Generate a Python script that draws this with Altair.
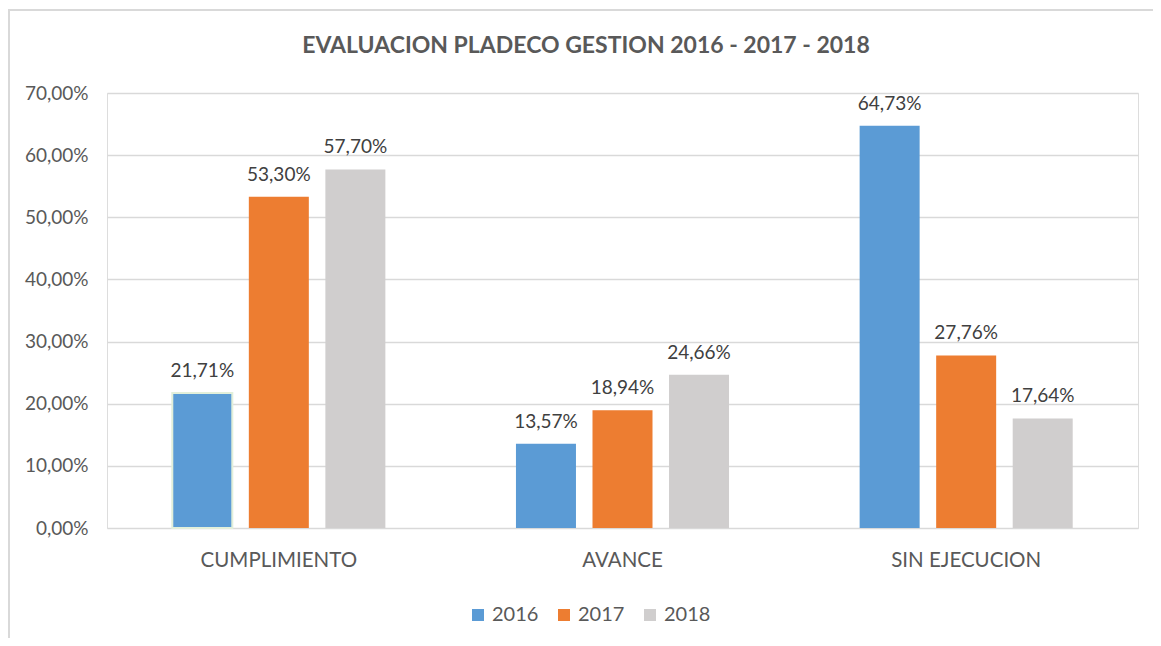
import altair as alt
import pandas as pd

title_text = "EVALUACION PLADECO GESTION 2016 - 2017 - 2018"
categories = ["CUMPLIMIENTO", "AVANCE", "SIN EJECUCION"]
years = ["2016", "2017", "2018"]
values_2016 = [0.2171, 0.1357, 0.6473]
values_2017 = [0.5330, 0.1894, 0.2776]
values_2018 = [0.5770, 0.2466, 0.1764]
colors = ["#5B9BD5", "#ED7D31", "#D0CECE"]

rows = []
for yr, vals in zip(years, [values_2016, values_2017, values_2018]):
    for c, v in zip(categories, vals):
        rows.append({"categoria": c, "anio": yr, "valor": v})
df = pd.DataFrame(rows)

FONT = "Lato"
GRAY_TXT = "#595959"

x_enc = alt.X("categoria:N", sort=categories, title=None,
              scale=alt.Scale(paddingInner=0.38, paddingOuter=0.19),
              axis=alt.Axis(labelFont=FONT, labelFontSize=20.5, labelColor=GRAY_TXT,
                            labelPadding=22, ticks=False, domain=False, labelAngle=0))
xo_enc = alt.XOffset("anio:N", sort=years,
                     scale=alt.Scale(paddingInner=0.216, paddingOuter=0))
y_enc = alt.Y("valor:Q", title=None,
              scale=alt.Scale(domain=[0, 0.7], nice=False),
              axis=alt.Axis(values=[0, 0.1, 0.2, 0.3, 0.4, 0.5, 0.6, 0.7],
                            labelExpr="replace(format(datum.value, '.2%'), '.', ',')",
                            labelFont=FONT, labelFontSize=19, labelColor=GRAY_TXT,
                            labelPadding=19, ticks=False, domain=False,
                            grid=True, gridColor="#D9D9D9", gridWidth=1.5))
color_enc = alt.Color("anio:N", sort=years, title=None,
                      scale=alt.Scale(domain=years, range=colors),
                      legend=alt.Legend(orient="none", direction="horizontal",
                                        legendX=361, legendY=512,
                                        symbolType="square", symbolSize=144,
                                        symbolStrokeWidth=0,
                                        labelFont=FONT, labelFontSize=20,
                                        labelColor=GRAY_TXT, labelOffset=4,
                                        columnPadding=15))

base = alt.Chart(df)

bars = base.mark_bar(stroke="#E2EFDA").encode(
    x=x_enc, xOffset=xo_enc, y=y_enc, color=color_enc,
    strokeWidth=alt.condition(
        "datum.categoria == 'CUMPLIMIENTO' && datum.anio == '2016'",
        alt.value(2), alt.value(0)),
)

labels = base.transform_calculate(
    etiqueta="replace(format(datum.valor, '.2%'), '.', ',')"
).mark_text(font=FONT, fontSize=19, color="#404040", baseline="alphabetic", dy=-16).encode(
    x=alt.X("categoria:N", sort=categories),
    xOffset=alt.XOffset("anio:N", sort=years),
    y=alt.Y("valor:Q"),
    text="etiqueta:N",
)

title_layer = alt.Chart(pd.DataFrame({"t": [title_text]})).mark_text(
    font=FONT, fontSize=23, fontWeight="bold", color=GRAY_TXT,
    align="center", baseline="alphabetic"
).encode(x=alt.value(479), y=alt.value(-40), text="t:N")

frame_left = alt.Chart(pd.DataFrame({"k": [0]})).mark_rect(
    fill="#D9D9D9", stroke=None
).encode(x=alt.value(-99), x2=alt.value(-97), y=alt.value(-84), y2=alt.value(545))
frame_top = alt.Chart(pd.DataFrame({"k": [0]})).mark_rect(
    fill="#D9D9D9", stroke=None
).encode(x=alt.value(-99), x2=alt.value(1046), y=alt.value(-84), y2=alt.value(-82))

chart = alt.layer(bars, labels, title_layer, frame_left, frame_top).properties(
    width=1031, height=435,
    autosize=alt.AutoSizeParams(type="none"),
    padding={"left": 99, "top": 85, "right": 15, "bottom": 110},
).configure_view(stroke=None).configure(background="white")

chart.save("out.html", embed_options={"renderer": "svg", "actions": False})
